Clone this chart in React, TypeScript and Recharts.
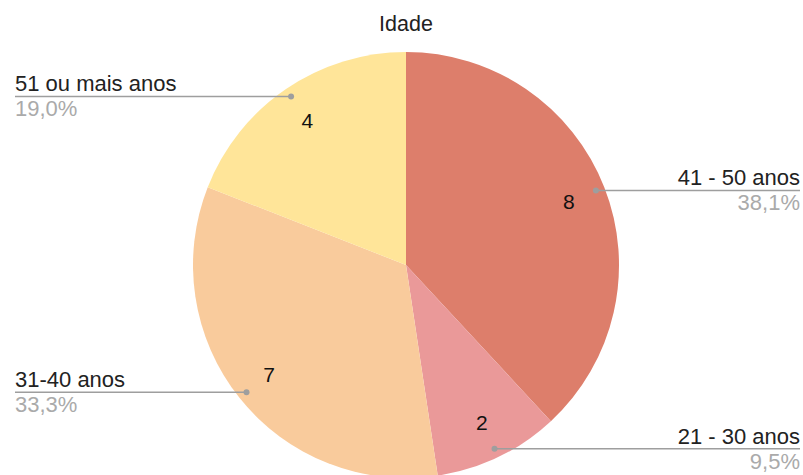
import { PieChart, Pie, Cell } from "recharts";

const categories = ["41 - 50 anos", "21 - 30 anos", "31-40 anos", "51 ou mais anos"];
const counts = [8, 2, 7, 4];
const colors = ["#DD7E6B", "#EA9999", "#F9CB9C", "#FFE599"];

const data = categories.map((name, i) => ({ name, value: counts[i] }));

const RADIAN = Math.PI / 180;
const FONT = "'Liberation Sans', Arial, sans-serif";

// rótulo: número dentro da fatia + linha guia até a margem com nome e %
const renderLabel = (props: any) => {
  const { cx, cy, midAngle, percent, name, value } = props;
  const cos = Math.cos(-midAngle * RADIAN);
  const sin = Math.sin(-midAngle * RADIAN);
  const ix = cx + 175 * cos;
  const iy = cy + 175 * sin;
  const dx = cx + 204 * cos;
  const dy = cy + 204 * sin;
  const right = cos >= 0;
  const ex = right ? 800 : 15;
  const pct = (percent * 100).toFixed(1).replace(".", ",") + "%";
  return (
    <g>
      <text x={ix} y={iy} textAnchor="middle" dominantBaseline="central" fontSize={21} fill="#111" fontFamily={FONT}>
        {value}
      </text>
      <line x1={dx} y1={dy} x2={ex} y2={dy} stroke="#9e9e9e" strokeWidth={1.5} />
      <circle cx={dx} cy={dy} r={3} fill="#9e9e9e" />
      <text x={ex} y={dy - 5} textAnchor={right ? "end" : "start"} fontSize={22} fill="#222" fontFamily={FONT}>
        {name}
      </text>
      <text x={ex} y={dy + 20} textAnchor={right ? "end" : "start"} fontSize={22} fill="#aaaaaa" fontFamily={FONT}>
        {pct}
      </text>
    </g>
  );
};

export default function App() {
  return (
    <div style={{ position: "absolute", left: 0, top: 0, width: 803, height: 475, background: "#fff" }}>
      <PieChart width={803} height={475} margin={{ top: 0, right: 0, bottom: 0, left: 0 }}>
        <text x={406} y={31} textAnchor="middle" fontSize={21.5} fill="#222" fontFamily={FONT}>
          Idade
        </text>
        <Pie
          data={data}
          dataKey="value"
          nameKey="name"
          cx={406}
          cy={265}
          outerRadius={213}
          startAngle={90}
          endAngle={-270}
          stroke="none"
          label={renderLabel}
          labelLine={false}
          isAnimationActive={false}
        >
          {data.map((d, i) => (
            <Cell key={d.name} fill={colors[i]} />
          ))}
        </Pie>
      </PieChart>
    </div>
  );
}
